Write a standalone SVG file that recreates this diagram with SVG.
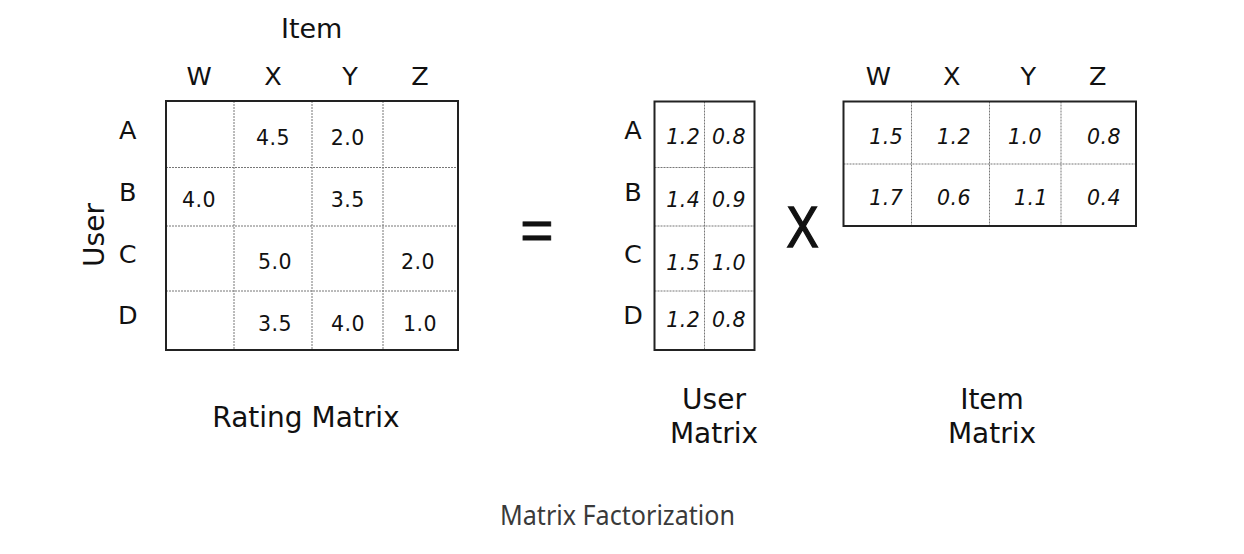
<svg xmlns="http://www.w3.org/2000/svg" width="1244" height="554" viewBox="0 0 1244 554">
<style>
.frame{fill:none;stroke:#222;stroke-width:2}
.grid{fill:none;stroke:#777;stroke-width:1;stroke-dasharray:2,1}
.lbl{font-family:"DejaVu Sans",Verdana,sans-serif;fill:#111;text-anchor:middle}
.hd{font-size:25.5px}
.big{font-size:28px}
.val{font-family:"DejaVu Sans",Verdana,sans-serif;font-size:20.5px;letter-spacing:0.5px;fill:#111;text-anchor:middle}
.ital{font-style:italic}
.cap{font-family:"Noto Sans",sans-serif;font-size:26.5px;fill:#3a3a3a;text-anchor:middle}
.op{font-family:"Liberation Sans",Arial,sans-serif;fill:#111;stroke:#111;text-anchor:middle}
</style>
<rect width="1244" height="554" fill="#fff"/>
<g id="rating-matrix">
  <text class="lbl" x="311.7" y="38" style="font-size:27px">Item</text>
  <text class="lbl hd" x="199" y="85">W</text>
  <text class="lbl hd" x="273" y="85">X</text>
  <text class="lbl hd" x="350" y="85">Y</text>
  <text class="lbl hd" x="420" y="85">Z</text>
  <text class="lbl hd" x="127.7" y="138.5">A</text>
  <text class="lbl hd" x="127.7" y="200.5">B</text>
  <text class="lbl hd" x="127.7" y="262.5">C</text>
  <text class="lbl hd" x="127.7" y="323.5">D</text>
  <text class="lbl big" transform="translate(104,235) rotate(-90)">User</text>
  <path class="grid" d="M234,101V350M312,101V350M383,101V350M166,167.5H458M166,226H458M166,291H458"/>
  <rect class="frame" x="166" y="101" width="292" height="249"/>
  <text class="val" x="273" y="145">4.5</text>
  <text class="val" x="347.7" y="145">2.0</text>
  <text class="val" x="199" y="207">4.0</text>
  <text class="val" x="347.7" y="207">3.5</text>
  <text class="val" x="275" y="269">5.0</text>
  <text class="val" x="418" y="269">2.0</text>
  <text class="val" x="275" y="331">3.5</text>
  <text class="val" x="348" y="331">4.0</text>
  <text class="val" x="420" y="331">1.0</text>
  <text class="lbl big" x="306" y="427.3">Rating Matrix</text>
</g>
<g id="equals">
  <text class="op" x="537" y="250" style="font-size:57px;stroke-width:0.9">=</text>
</g>
<g id="user-matrix">
  <text class="lbl hd" x="633" y="138.5">A</text>
  <text class="lbl hd" x="633" y="200.5">B</text>
  <text class="lbl hd" x="633" y="262.5">C</text>
  <text class="lbl hd" x="633" y="323.5">D</text>
  <path class="grid" d="M704.5,101.5V350M654.5,167.5H754.5M654.5,226H754.5M654.5,291H754.5"/>
  <rect class="frame" x="654.5" y="101.5" width="100" height="248.5"/>
  <text class="val ital" x="683.3" y="144.3">1.2</text>
  <text class="val ital" x="729" y="144.3">0.8</text>
  <text class="val ital" x="683.3" y="206.7">1.4</text>
  <text class="val ital" x="729" y="206.7">0.9</text>
  <text class="val ital" x="683.3" y="270">1.5</text>
  <text class="val ital" x="729" y="270">1.0</text>
  <text class="val ital" x="683.3" y="327.3">1.2</text>
  <text class="val ital" x="729" y="327.3">0.8</text>
  <text class="lbl big" x="714" y="409.3">User</text>
  <text class="lbl big" x="714" y="443.3">Matrix</text>
</g>
<g id="times">
  <text class="op" transform="translate(802.5,247) scale(0.83,1)" style="font-size:58px;stroke-width:1.4">X</text>
</g>
<g id="item-matrix">
  <text class="lbl hd" x="878.3" y="85">W</text>
  <text class="lbl hd" x="951.7" y="85">X</text>
  <text class="lbl hd" x="1028.3" y="85">Y</text>
  <text class="lbl hd" x="1097.7" y="85">Z</text>
  <path class="grid" d="M911.5,101.5V226M989.5,101.5V226M1061,101.5V226M843.5,164H1136"/>
  <rect class="frame" x="843.5" y="101.5" width="292.5" height="124.5"/>
  <text class="val ital" x="886.3" y="144.3">1.5</text>
  <text class="val ital" x="954" y="144.3">1.2</text>
  <text class="val ital" x="1025" y="144.3">1.0</text>
  <text class="val ital" x="1104" y="144.3">0.8</text>
  <text class="val ital" x="886.3" y="205">1.7</text>
  <text class="val ital" x="954" y="205">0.6</text>
  <text class="val ital" x="1031" y="205">1.1</text>
  <text class="val ital" x="1104" y="205">0.4</text>
  <text class="lbl big" x="992" y="409.3">Item</text>
  <text class="lbl big" x="992" y="443.3">Matrix</text>
</g>
<g id="connectors"/>
<g id="caption">
  <text class="cap" x="617.5" y="525" textLength="235" lengthAdjust="spacingAndGlyphs">Matrix Factorization</text>
</g>
</svg>
